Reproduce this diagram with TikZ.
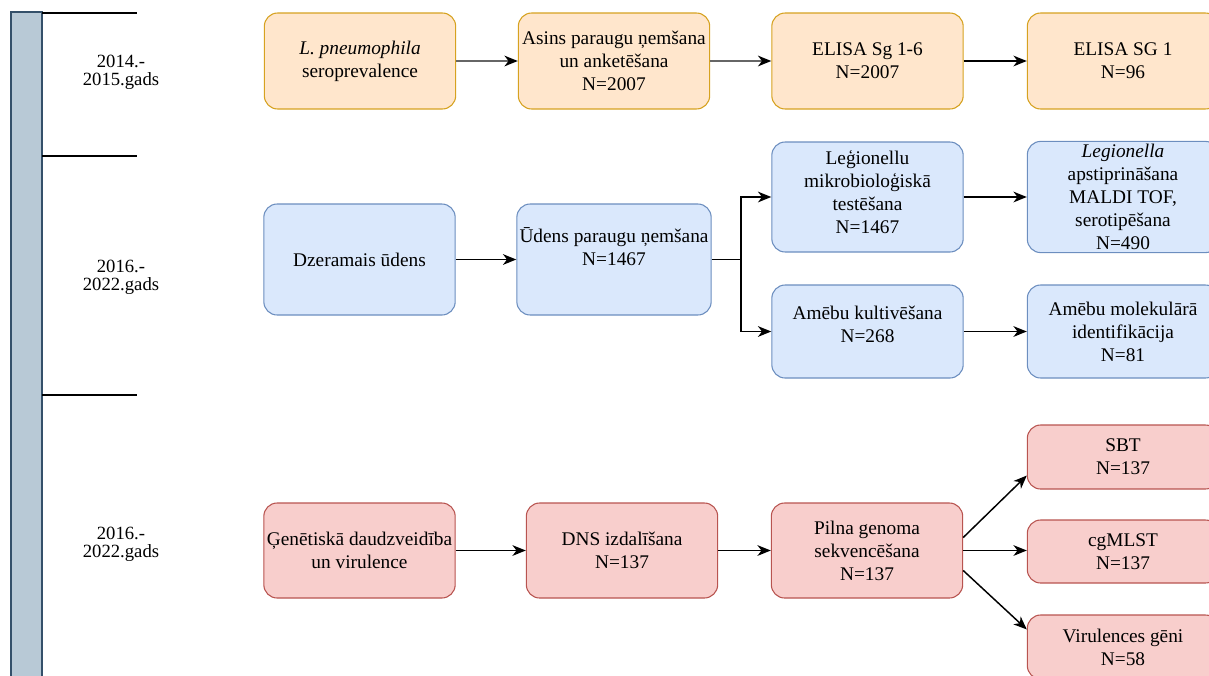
\documentclass[tikz,border=0pt]{standalone}
\usepackage{fontspec}
\setmainfont{Liberation Serif}
\newfontfamily\tnr{Liberation Serif}
\usetikzlibrary{arrows.meta}
\definecolor{ofill}{HTML}{FFE6CC}
\definecolor{oline}{HTML}{D6A220}
\definecolor{bfill}{HTML}{DAE8FC}
\definecolor{bline}{HTML}{6C8EBF}
\definecolor{rfill}{HTML}{F8CECC}
\definecolor{rline}{HTML}{B85450}
\definecolor{barfill}{HTML}{B8C9D6}
\definecolor{barline}{HTML}{34506A}
\tikzset{
  box/.style={rounded corners=10pt, minimum width=143.5pt, align=center, inner sep=2pt,
    line width=0.8pt, font=\tnr\fontsize{14.5}{17.3}\selectfont},
  obox/.style={box, fill=ofill, draw=oline, minimum height=72pt},
  bbox/.style={box, fill=bfill, draw=bline},
  rbox/.style={box, fill=rfill, draw=rline},
  arr/.style={line width=1.1pt, -{Stealth[length=10pt,width=8pt,inset=3pt]}},
  grayarr/.style={line width=1.1pt, draw=black!60, -{Stealth[length=10pt,width=8pt,inset=3pt,color=black]}},
  yearlbl/.style={align=center, font=\tnr\fontsize{14}{13.5}\selectfont},
  sep/.style={line width=0.9pt}
}
\begin{document}
\begin{tikzpicture}[x=0.75pt,y=-0.75pt]
\useasboundingbox (0,0) rectangle (1209,675);
% timeline bar
\draw[fill=barfill, draw=barline, line width=0.9pt] (11,680) -- (11,12) -- (42,12) -- (42,680);
\draw[sep] (42,13) -- (137,13);
\draw[sep] (42,156) -- (137,156);
\draw[sep] (42,395) -- (137,395);
\node[yearlbl] (t1) at (121,72) {2014.-\\2015.gads};
\node[yearlbl] (t2) at (121,277) {2016.-\\2022.gads};
\node[yearlbl] (t3) at (121,544) {2016.-\\2022.gads};

% top row
\node[obox] (n1) at (360,61) {\textit{L. pneumophila}\\seroprevalence};
\node[obox] (n2) at (614,61) {Asins paraugu ņemšana\\un anketēšana\\N=2007};
\node[obox] (n3) at (867.5,61) {ELISA Sg 1-6\\N=2007};
\node[obox] (n4) at (1123,61) {ELISA SG 1\\N=96};
\draw[grayarr] (n1) -- (n2);
\draw[grayarr] (n2) -- (n3);
\draw[arr] (n3) -- (n4);

% middle row
\node[bbox, minimum height=83.25pt] (w1) at (359.5,259.5) {Dzeramais ūdens};
\node[bbox, minimum height=83.25pt] (w2) at (614,259.5) {Ūdens paraugu ņemšana\\N=1467\\[2pt]\mbox{}};
\node[bbox, minimum height=82.5pt] (leg) at (867.5,197) {Leģionellu\\mikrobioloģiskā\\testēšana\\N=1467\\[-10pt]\mbox{}};
\node[bbox, minimum height=82.5pt] (lcon) at (1123,197) {\textit{Legionella}\\apstiprināšana\\MALDI TOF,\\serotipēšana\\N=490};
\node[bbox, minimum height=69.75pt] (amc) at (867.5,331.5) {Amēbu kultivēšana\\N=268\\[-6pt]\mbox{}};
\node[bbox, minimum height=69.75pt] (amm) at (1123,331.5) {Amēbu molekulārā\\identifikācija\\N=81};
\coordinate (br) at (741,259.5);
\draw[arr] (w1) -- (w2);
\draw[line width=1.1pt] (w2.east) -- (br);
\draw[arr] (br) |- (leg.west);
\draw[arr] (br) |- (amc.west);
\draw[arr] (leg) -- (lcon);
\draw[arr] (amc) -- (amm);

% bottom row
\node[rbox, minimum height=71.25pt] (g1) at (359.5,550.5) {Ģenētiskā daudzveidība\\un virulence};
\node[rbox, minimum height=71.25pt] (dns) at (622,550.5) {DNS izdalīšana\\N=137};
\node[rbox, minimum height=71.25pt] (pil) at (867,550.5) {Pilna genoma\\sekvencēšana\\N=137};
\node[rbox, minimum height=48pt] (sbt) at (1123,457) {SBT\\N=137};
\node[rbox, minimum height=47.25pt] (cg) at (1123,551.5) {cgMLST\\N=137};
\node[rbox, minimum height=48pt] (vir) at (1123,647) {Virulences gēni\\N=58};
\draw[arr] (g1) -- (dns);
\draw[arr] (dns) -- (pil);
\draw[arr] ([yshift=9.75pt]pil.east) -- ([yshift=10.5pt]sbt.south west);
\draw[arr] (pil.east) -- (pil.east -| cg.west);
\draw[arr] ([yshift=-15pt]pil.east) -- ([yshift=-11.25pt]vir.north west);
\end{tikzpicture}
\end{document}
